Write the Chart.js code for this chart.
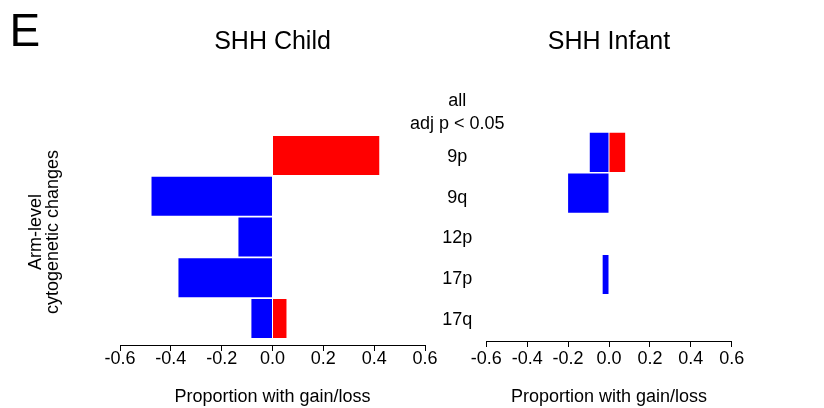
<!DOCTYPE html>
<html>
<head>
<meta charset="utf-8">
<script src="https://cdn.jsdelivr.net/npm/chart.js@4.4.1/dist/chart.umd.min.js"></script>
<style>
    body { margin: 0; background: #fff; }
    #wrap { position: relative; width: 824px; height: 408px; font-family: 'Liberation Sans', Arial, sans-serif; color: #000; }
    #wrap canvas { position: absolute; left: 0; top: 0; }
    .panel { position: absolute; left: 9.5px; top: 7px; font-size: 46px; line-height: 46px; }
    .ylab { position: absolute; left: -55.7px; top: 215px; width: 200px; height: 34px; font-size: 18px; line-height: 17px; text-align: center; transform: rotate(-90deg); }
</style>
</head>
<body>
<div id="wrap">
    <canvas id="child" width="824" height="408"></canvas>
    <canvas id="infant" width="824" height="408"></canvas>
    <div class="panel">E</div>
    <div class="ylab">Arm-level<br>cytogenetic changes</div>
</div>
<script>
const arms = ['9p', '9q', '12p', '17p', '17q']
const headerLabel = ['all', 'adj p < 0.05']
const headerPos = -0.1
const rowPos = [1, 2, 3, 4, 5]

// proportions (gain > 0, loss < 0)
const childGain = [0.42, 0, 0, 0, 0.055]
const childLoss = [0, -0.476, -0.134, -0.37, -0.083]
const infantGain = [0.079, 0, 0, 0, 0]
const infantLoss = [-0.094, -0.2, 0, -0.031, 0]

const xTicks = [-0.6, -0.4, -0.2, 0, 0.2, 0.4, 0.6]

Chart.defaults.font.family = "'Liberation Sans', Arial, sans-serif"
Chart.defaults.color = '#000'

function points(values) {
    return values.map((v, i) => ({ x: v, y: rowPos[i] }))
}

function rowLabel(value) {
    if (value === headerPos) return headerLabel
    return arms[value - 1] || ''
}

function makeChart(id, title, gain, loss, opts) {
    const ctx = document.getElementById(id)
    return new Chart(ctx, {
        type: 'bar',
        data: {
            datasets: [{
                label: 'Loss',
                data: points(loss),
                backgroundColor: '#0000ff'
            }, {
                label: 'Gain',
                data: points(gain),
                backgroundColor: '#ff0000'
            }]
        },
        options: {
            responsive: false,
            animation: false,
            indexAxis: 'y',
            layout: { padding: opts.padding },
            datasets: {
                bar: { grouped: false, barPercentage: 0.96, categoryPercentage: 1, borderWidth: 0 }
            },
            plugins: {
                legend: { display: false },
                tooltip: { enabled: false },
                title: {
                    display: true,
                    text: title,
                    fullSize: false,
                    color: '#000',
                    font: { size: 25, weight: 'normal' },
                    padding: { top: 27, bottom: opts.titleGap }
                }
            },
            scales: {
                x: {
                    type: 'linear',
                    min: -0.6,
                    max: 0.6,
                    afterBuildTicks: function(scale) {
                        scale.ticks = xTicks.map(v => ({ value: v }))
                    },
                    afterFit: function(scale) {
                        scale.height = opts.xHeight
                    },
                    ticks: {
                        autoSkip: false,
                        maxRotation: 0,
                        padding: opts.tickPad,
                        font: { size: 18 },
                        callback: function(v) {
                            return Math.abs(v) < 1e-9 ? '0.0' : Number(v).toFixed(1)
                        }
                    },
                    grid: { display: true, drawOnChartArea: false, drawTicks: true, tickLength: 6, color: '#000' },
                    border: { display: true, color: '#000', width: 1 },
                    title: {
                        display: true,
                        text: 'Proportion with gain/loss',
                        font: { size: 18 },
                        padding: { top: 0, bottom: 0 }
                    }
                },
                y: {
                    type: 'linear',
                    offset: false,
                    reverse: true,
                    min: -0.5,
                    max: opts.yMax,
                    position: 'right',
                    display: opts.showRows,
                    afterBuildTicks: function(scale) {
                        scale.ticks = [headerPos].concat(rowPos).map(v => ({ value: v }))
                    },
                    afterFit: function(scale) {
                        scale.width = 60
                        scale.paddingTop = 0
                        scale.paddingBottom = 0
                    },
                    ticks: {
                        autoSkip: false,
                        mirror: true,
                        crossAlign: 'center',
                        padding: 79.5,
                        labelOffset: 1.5,
                        font: { size: 18, lineHeight: 1.28 },
                        callback: rowLabel
                    },
                    grid: { display: false, drawTicks: false, offset: false },
                    border: { display: false }
                }
            }
        }
    })
}

const childChart = makeChart('child', 'SHH Child', childGain, childLoss, {
    padding: { left: 120, right: 339, top: 0, bottom: 0 },
    titleGap: 37.4,
    yMax: 5.65,
    xHeight: 63,
    tickPad: -2.3,
    showRows: true
})

const infantChart = makeChart('infant', 'SHH Infant', infantGain, infantLoss, {
    padding: { left: 486.3, right: 32.3, top: 0, bottom: 0 },
    titleGap: 34.35,
    yMax: 5.634,
    xHeight: 67,
    tickPad: 1.7,
    showRows: false
})
</script>
</body>
</html>
